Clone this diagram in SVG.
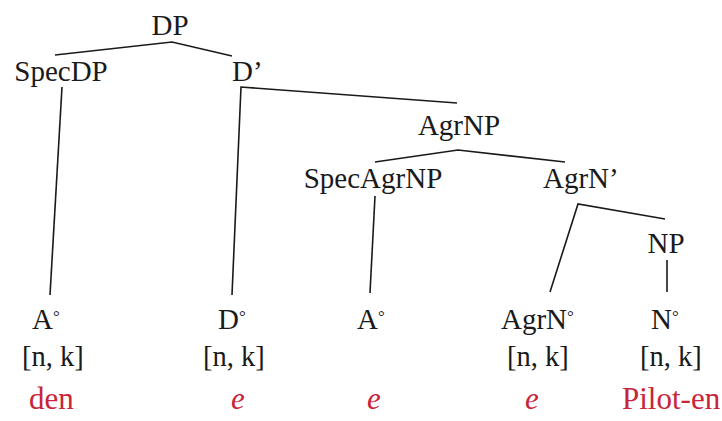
<svg xmlns="http://www.w3.org/2000/svg" width="722" height="421" viewBox="0 0 722 421">
  <rect width="722" height="421" fill="#ffffff"/>

  <!-- branches -->
  <g id="connectors" fill="none" stroke="#1a1a1a" stroke-width="1.6">
    <polyline points="55,55 172,42 232,56"/>
    <line x1="62" y1="87" x2="50" y2="295"/>
    <polyline points="457,103 241,87 232,295"/>
    <polyline points="375,162 458,150 565,162"/>
    <line x1="375" y1="196" x2="370" y2="293"/>
    <polyline points="665,219 578,204 550,292"/>
    <line x1="667" y1="260" x2="667" y2="292"/>
  </g>

  <!-- phrase nodes -->
  <text id="n-DP" font-family="Liberation Serif" font-size="29" fill="#1a1a1a" x="170" y="35" text-anchor="middle">DP</text>
  <text id="n-SpecDP" font-family="Liberation Serif" font-size="29" fill="#1a1a1a" x="61" y="81" text-anchor="middle">SpecDP</text>
  <text id="n-Dbar" font-family="Liberation Serif" font-size="29" fill="#1a1a1a" x="232" y="81">D’</text>
  <text id="n-AgrNP" font-family="Liberation Serif" font-size="29" fill="#1a1a1a" x="459" y="135" text-anchor="middle">AgrNP</text>
  <text id="n-SpecAgrNP" font-family="Liberation Serif" font-size="29" fill="#1a1a1a" x="373" y="188" text-anchor="middle">SpecAgrNP</text>
  <text id="n-AgrNbar" font-family="Liberation Serif" font-size="29" fill="#1a1a1a" x="543" y="188">AgrN’</text>
  <text id="n-NP" font-family="Liberation Serif" font-size="29" fill="#1a1a1a" x="666" y="253" text-anchor="middle">NP</text>

  <!-- terminal heads, features and words -->
  <text id="n-A1" font-family="Liberation Serif" font-size="29" fill="#1a1a1a" x="32" y="329">A<tspan font-size="17" dy="-7">°</tspan></text>
  <text id="f-A1" font-family="Liberation Serif" font-size="28.5" fill="#1a1a1a" x="22" y="366">[n, k]</text>
  <text id="w-A1" font-family="Liberation Serif" font-size="31" fill="#c8243a" x="29" y="409">den</text>

  <text id="n-D0" font-family="Liberation Serif" font-size="29" fill="#1a1a1a" x="218" y="329">D<tspan font-size="17" dy="-7">°</tspan></text>
  <text id="f-D0" font-family="Liberation Serif" font-size="28.5" fill="#1a1a1a" x="203" y="366">[n, k]</text>
  <text id="w-D0" font-family="Liberation Serif" font-size="31" font-style="italic" fill="#c8243a" x="231" y="409">e</text>

  <text id="n-A2" font-family="Liberation Serif" font-size="29" fill="#1a1a1a" x="357" y="329">A<tspan font-size="17" dy="-7">°</tspan></text>
  <text id="w-A2" font-family="Liberation Serif" font-size="31" font-style="italic" fill="#c8243a" x="367" y="409">e</text>

  <text id="n-AgrN0" font-family="Liberation Serif" font-size="29" fill="#1a1a1a" x="501" y="329">AgrN<tspan font-size="17" dy="-7">°</tspan></text>
  <text id="f-AgrN0" font-family="Liberation Serif" font-size="28.5" fill="#1a1a1a" x="507" y="366">[n, k]</text>
  <text id="w-AgrN0" font-family="Liberation Serif" font-size="31" font-style="italic" fill="#c8243a" x="525" y="409">e</text>

  <text id="n-N0" font-family="Liberation Serif" font-size="29" fill="#1a1a1a" x="651" y="329">N<tspan font-size="17" dy="-7">°</tspan></text>
  <text id="f-N0" font-family="Liberation Serif" font-size="28.5" fill="#1a1a1a" x="640" y="366">[n, k]</text>
  <text id="w-N0" font-family="Liberation Serif" font-size="31" fill="#c8243a" x="622" y="409">Pilot-en</text>
</svg>
